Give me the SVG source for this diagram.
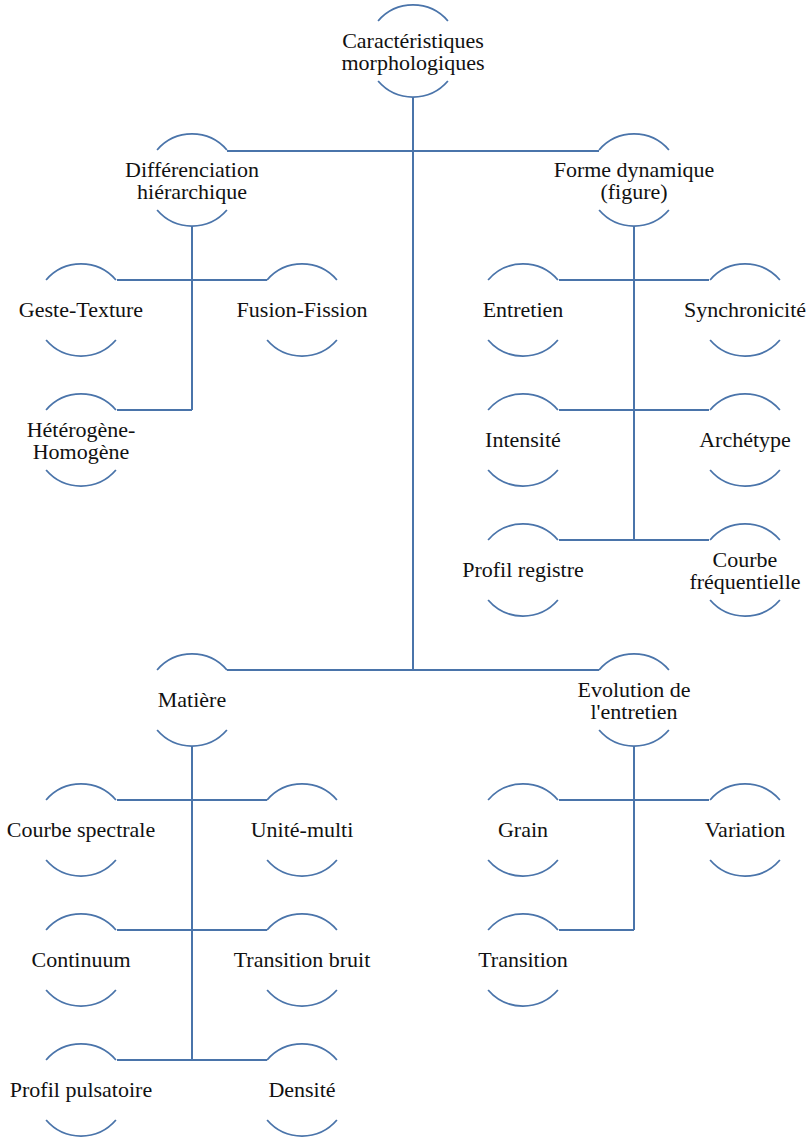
<svg xmlns="http://www.w3.org/2000/svg" xmlns:xlink="http://www.w3.org/1999/xlink" width="808" height="1138" viewBox="0 0 808 1138">
<style>
.arc{fill:none;stroke:#4a74aa;stroke-width:1.8}
.con{fill:none;stroke:#4a74aa;stroke-width:2}
text{font-family:"Liberation Serif","Times New Roman",serif;font-size:22px;fill:#111111;text-anchor:middle}
</style>
<defs>
<g id="ring">
<path class="arc" d="M-34.9,-30 A46,46 0 0 1 34.9,-30"/>
<path class="arc" d="M-34.9,30 A46,46 0 0 0 34.9,30"/>
</g>
</defs>
<rect width="808" height="1138" fill="#ffffff"/>
<g id="connectors">
<path class="con" d="M413,97 V670"/>
<path class="con" d="M227,151 H599"/>
<path class="con" d="M227,670 H599"/>
<path class="con" d="M192,226 V410"/>
<path class="con" d="M117,280 H267"/>
<path class="con" d="M117,410 H192"/>
<path class="con" d="M634,226 V540"/>
<path class="con" d="M559,280 H709"/>
<path class="con" d="M559,410 H709"/>
<path class="con" d="M559,540 H709"/>
<path class="con" d="M192,746 V1060"/>
<path class="con" d="M117,800 H267"/>
<path class="con" d="M117,930 H267"/>
<path class="con" d="M117,1060 H267"/>
<path class="con" d="M634,746 V930"/>
<path class="con" d="M559,800 H709"/>
<path class="con" d="M559,930 H634"/>
</g>
<g id="n-root"><use xlink:href="#ring" href="#ring" x="413" y="51"/><text x="413" y="48">Caractéristiques</text><text x="413" y="69.5">morphologiques</text></g>
<g id="n-diff"><use xlink:href="#ring" href="#ring" x="192" y="180"/><text x="192" y="177">Différenciation</text><text x="192" y="198.5">hiérarchique</text></g>
<g id="n-forme"><use xlink:href="#ring" href="#ring" x="634" y="180"/><text x="634" y="177">Forme dynamique</text><text x="634" y="198.5">(figure)</text></g>
<g id="n-geste"><use xlink:href="#ring" href="#ring" x="81" y="310"/><text x="81" y="317">Geste-Texture</text></g>
<g id="n-fusion"><use xlink:href="#ring" href="#ring" x="302" y="310"/><text x="302" y="317">Fusion-Fission</text></g>
<g id="n-hetero"><use xlink:href="#ring" href="#ring" x="81" y="440"/><text x="81" y="437">Hétérogène-</text><text x="81" y="458.5">Homogène</text></g>
<g id="n-entretien"><use xlink:href="#ring" href="#ring" x="523" y="310"/><text x="523" y="317">Entretien</text></g>
<g id="n-synchro"><use xlink:href="#ring" href="#ring" x="745" y="310"/><text x="745" y="317">Synchronicité</text></g>
<g id="n-intensite"><use xlink:href="#ring" href="#ring" x="523" y="440"/><text x="523" y="447">Intensité</text></g>
<g id="n-archetype"><use xlink:href="#ring" href="#ring" x="745" y="440"/><text x="745" y="447">Archétype</text></g>
<g id="n-profilreg"><use xlink:href="#ring" href="#ring" x="523" y="570"/><text x="523" y="577">Profil registre</text></g>
<g id="n-courbefreq"><use xlink:href="#ring" href="#ring" x="745" y="570"/><text x="745" y="567">Courbe</text><text x="745" y="588.5">fréquentielle</text></g>
<g id="n-matiere"><use xlink:href="#ring" href="#ring" x="192" y="700"/><text x="192" y="707">Matière</text></g>
<g id="n-evolution"><use xlink:href="#ring" href="#ring" x="634" y="700"/><text x="634" y="697">Evolution de</text><text x="634" y="718.5">l'entretien</text></g>
<g id="n-courbespec"><use xlink:href="#ring" href="#ring" x="81" y="830"/><text x="81" y="837">Courbe spectrale</text></g>
<g id="n-unite"><use xlink:href="#ring" href="#ring" x="302" y="830"/><text x="302" y="837">Unité-multi</text></g>
<g id="n-continuum"><use xlink:href="#ring" href="#ring" x="81" y="960"/><text x="81" y="967">Continuum</text></g>
<g id="n-transbruit"><use xlink:href="#ring" href="#ring" x="302" y="960"/><text x="302" y="967">Transition bruit</text></g>
<g id="n-pulsatoire"><use xlink:href="#ring" href="#ring" x="81" y="1090"/><text x="81" y="1097">Profil pulsatoire</text></g>
<g id="n-densite"><use xlink:href="#ring" href="#ring" x="302" y="1090"/><text x="302" y="1097">Densité</text></g>
<g id="n-grain"><use xlink:href="#ring" href="#ring" x="523" y="830"/><text x="523" y="837">Grain</text></g>
<g id="n-variation"><use xlink:href="#ring" href="#ring" x="745" y="830"/><text x="745" y="837">Variation</text></g>
<g id="n-transition"><use xlink:href="#ring" href="#ring" x="523" y="960"/><text x="523" y="967">Transition</text></g>
</svg>
